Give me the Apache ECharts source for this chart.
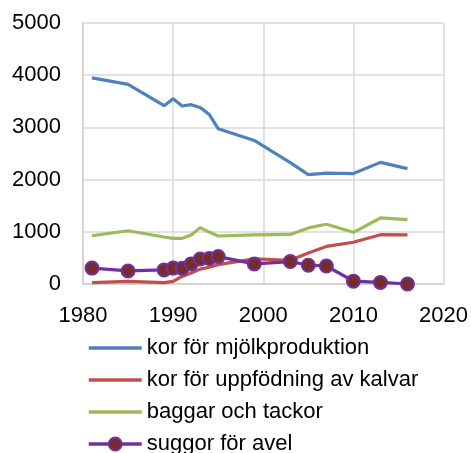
<!DOCTYPE html>
<html>
<head>
<meta charset="utf-8">
<script src="https://cdn.jsdelivr.net/npm/echarts@6/dist/echarts.min.js"></script>
<style>
  html, body { margin: 0; padding: 0; background: #fff; }
  #chart { width: 471px; height: 453px; }
</style>
</head>
<body>
<div id="chart"></div>
<script>
const years = [1981, 1985, 1989, 1990, 1991, 1992, 1993, 1994, 1995, 1999, 2003, 2005, 2007, 2010, 2013, 2016]
const mjolk = [3950, 3825, 3415, 3550, 3410, 3435, 3380, 3250, 2975, 2750, 2325, 2095, 2125, 2115, 2330, 2210]
const kalvar = [25, 50, 25, 50, 145, 210, 285, 320, 370, 480, 455, 595, 720, 800, 945, 940]
const baggar = [925, 1020, 900, 875, 875, 940, 1080, 995, 920, 940, 950, 1075, 1145, 990, 1265, 1235]
const suggor = [305, 250, 270, 305, 300, 385, 480, 490, 525, 385, 430, 360, 345, 55, 30, 0]
const names = ['kor för mjölkproduktion', 'kor för uppfödning av kalvar', 'baggar och tackor', 'suggor för avel']

;(function () {
  const chart = echarts.init(document.getElementById('chart'))
  const font = 'Liberation Sans'
  const pairs = arr => years.map((y, i) => [y, arr[i]])

  const plain = (name, arr, color) => ({
    name: name,
    type: 'line',
    data: pairs(arr),
    symbol: 'none',
    lineStyle: { color: color, width: 3.2 },
    itemStyle: { color: color }
  })

  const options = {
    animation: false,
    grid: { left: 83, right: 27, top: 23, bottom: 169 },
    xAxis: {
      type: 'value',
      min: 1980, max: 2020, interval: 10,
      axisLine: { show: true, lineStyle: { color: '#d0d0d0', width: 1.5 } },
      axisTick: { show: false },
      splitLine: { show: true, lineStyle: { color: '#d9d9d9', width: 1.5 } },
      axisLabel: { color: '#000', fontFamily: font, fontSize: 22, margin: 21, formatter: v => String(v) }
    },
    yAxis: {
      type: 'value',
      min: 0, max: 5000, interval: 1000,
      axisLine: { show: true, lineStyle: { color: '#d0d0d0', width: 1.5 } },
      axisTick: { show: false },
      splitLine: { show: true, lineStyle: { color: '#d9d9d9', width: 1.5 } },
      axisLabel: { color: '#000', fontFamily: font, fontSize: 22, margin: 22, formatter: v => String(v) }
    },
    legend: {
      orient: 'vertical',
      left: 82, top: 332, height: 300,
      itemWidth: 53, itemHeight: 16, itemGap: 10,
      textStyle: { color: '#000', fontFamily: font, fontSize: 22 },
      data: [
        { name: names[0], itemStyle: { opacity: 0 }, lineStyle: { width: 3.5 } },
        { name: names[1], itemStyle: { opacity: 0 }, lineStyle: { width: 3.5 } },
        { name: names[2], itemStyle: { opacity: 0 }, lineStyle: { width: 3.5 } },
        { name: names[3], lineStyle: { width: 3.5 } }
      ]
    },
    series: [
      plain(names[0], mjolk, '#4f81bd'),
      plain(names[1], kalvar, '#c0504d'),
      plain(names[2], baggar, '#9bbb59'),
      {
        name: names[3],
        type: 'line',
        data: pairs(suggor),
        symbol: 'circle',
        symbolSize: 13,
        lineStyle: { color: '#7030a0', width: 3.2 },
        itemStyle: { color: '#772c2a', borderColor: '#7030a0', borderWidth: 2 }
      }
    ]
  }

  chart.setOption(options)
})()
</script>
</body>
</html>
